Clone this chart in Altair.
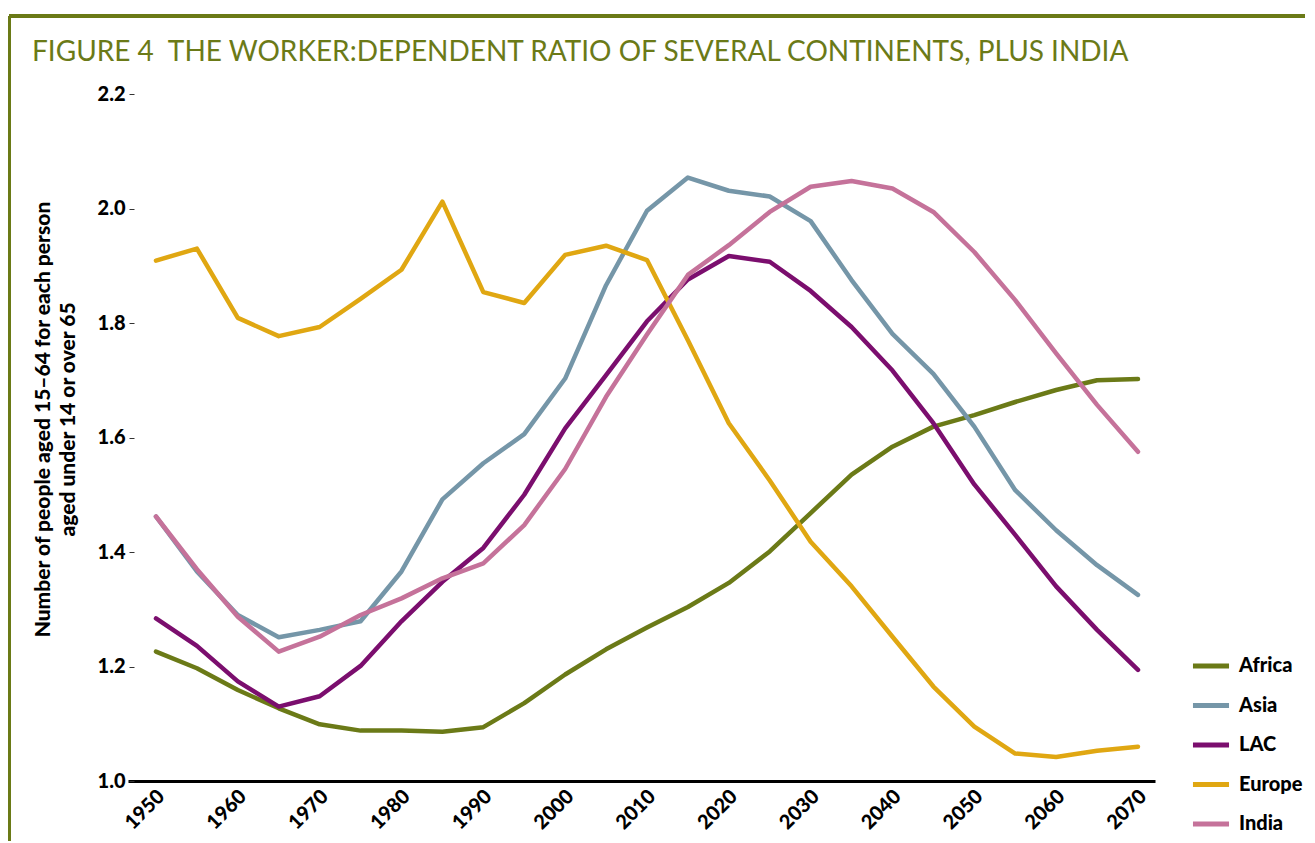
import altair as alt
import pandas as pd

years = list(range(1950, 2071, 5))

africa = [1.226, 1.197, 1.159, 1.127, 1.099, 1.088, 1.088, 1.086, 1.094, 1.136,
          1.186, 1.230, 1.268, 1.304, 1.346, 1.401, 1.468, 1.535, 1.584, 1.619,
          1.639, 1.662, 1.683, 1.700, 1.702]
asia = [1.462, 1.366, 1.290, 1.251, 1.264, 1.279, 1.366, 1.492, 1.555, 1.606,
        1.703, 1.866, 1.996, 2.054, 2.031, 2.021, 1.978, 1.875, 1.781, 1.711,
        1.619, 1.508, 1.438, 1.377, 1.325]
lac = [1.284, 1.236, 1.174, 1.130, 1.148, 1.201, 1.279, 1.348, 1.407, 1.500,
       1.616, 1.709, 1.803, 1.876, 1.917, 1.907, 1.856, 1.793, 1.717, 1.625,
       1.518, 1.430, 1.340, 1.264, 1.194]
europe = [1.909, 1.930, 1.809, 1.777, 1.793, 1.842, 1.893, 2.012, 1.854, 1.835,
          1.919, 1.935, 1.910, 1.770, 1.625, 1.525, 1.418, 1.340, 1.252, 1.165,
          1.095, 1.048, 1.042, 1.053, 1.060]
india = [1.462, 1.370, 1.287, 1.226, 1.252, 1.290, 1.319, 1.354, 1.380, 1.447,
         1.545, 1.671, 1.780, 1.884, 1.936, 1.994, 2.038, 2.048, 2.035, 1.994,
         1.924, 1.840, 1.747, 1.657, 1.575]

series_names = ["Africa", "Asia", "LAC", "Europe", "India"]
series_values = [africa, asia, lac, europe, india]
series_colors = ["#6b7a17", "#7596a8", "#7b0e6e", "#e0a712", "#c5729a"]
x_ticks = list(range(1950, 2071, 10))
y_ticks = [1.0, 1.2, 1.4, 1.6, 1.8, 2.0, 2.2]
title_text = "FIGURE 4\u2002THE WORKER:DEPENDENT RATIO OF SEVERAL CONTINENTS, PLUS INDIA"
y_title = ["Number of people aged 15\u201364 for each person", "aged under 14 or over 65"]

rows = []
for name, vals in zip(series_names, series_values):
    for yr, v in zip(years, vals):
        rows.append({"year": yr, "value": v, "region": name})
df = pd.DataFrame(rows)

FONT = "Lato"
OLIVE = "#6b7a17"
PLOT_L, PLOT_T = 128, 94
W, H = 1027, 687

lines = alt.Chart(df).mark_line(strokeWidth=4.5, strokeCap="round", strokeJoin="round").encode(
    x=alt.X("year:Q",
            scale=alt.Scale(domain=[1946.58, 2072.08], nice=False, zero=False),
            axis=alt.Axis(values=x_ticks, format="d", title=None, labelAngle=-45,
                          labelAlign="right", labelBaseline="middle", labelOffset=5,
                          labelPadding=12, ticks=False, domainColor="#000000",
                          domainWidth=3, labelFont=FONT, labelFontSize=20,
                          labelFontWeight=900, labelColor="#000000", grid=False)),
    y=alt.Y("value:Q",
            scale=alt.Scale(domain=[1.0, 2.2], nice=False, zero=False),
            axis=alt.Axis(values=y_ticks, format=".1f", domain=False, tickSize=5,
                          tickColor="#333333", tickWidth=1, offset=-6, labelPadding=4,
                          labelFont=FONT, labelFontSize=20, labelFontWeight=900,
                          labelColor="#000000", grid=False,
                          title=y_title,
                          titleFont=FONT, titleFontSize=21, titleFontWeight=900,
                          titleColor="#000000", titleAngle=-90, titleAlign="center",
                          titleBaseline="top", titleX=-102, titleY=325,
                          titleLineHeight=25)),
    color=alt.Color("region:N",
                    scale=alt.Scale(domain=series_names, range=series_colors),
                    legend=alt.Legend(title=None, orient="none", legendX=1062, legendY=551,
                                      symbolType="stroke", symbolStrokeWidth=5,
                                      symbolSize=1300, labelFont=FONT, labelFontSize=20,
                                      labelFontWeight=900, labelColor="#000000",
                                      rowPadding=8.5, labelOffset=7)),
)

title = alt.Chart(pd.DataFrame({"t": [title_text]})).mark_text(
    align="left", baseline="alphabetic", font=FONT, fontSize=28, fontWeight=400,
    color=OLIVE).encode(
    text="t:N", x=alt.value(32 - PLOT_L), y=alt.value(61 - PLOT_T))

border_v = alt.Chart(df).mark_rule(color=OLIVE, strokeWidth=3).encode(
    x=alt.value(9 - PLOT_L), y=alt.value(16 - PLOT_T), y2=alt.value(843 - PLOT_T))
border_h = alt.Chart(df).mark_rule(color=OLIVE, strokeWidth=3).encode(
    x=alt.value(9 - PLOT_L), x2=alt.value(1315 - PLOT_L), y=alt.value(16 - PLOT_T))

chart = alt.layer(border_v, border_h, title, lines).properties(
    width=W, height=H,
    autosize=alt.AutoSizeParams(type="none"),
    padding={"left": PLOT_L - 8, "top": PLOT_T - 8, "right": 150, "bottom": 60},
).configure_view(stroke=None)

chart.save("out.html", embed_options={"renderer": "svg", "actions": False})
